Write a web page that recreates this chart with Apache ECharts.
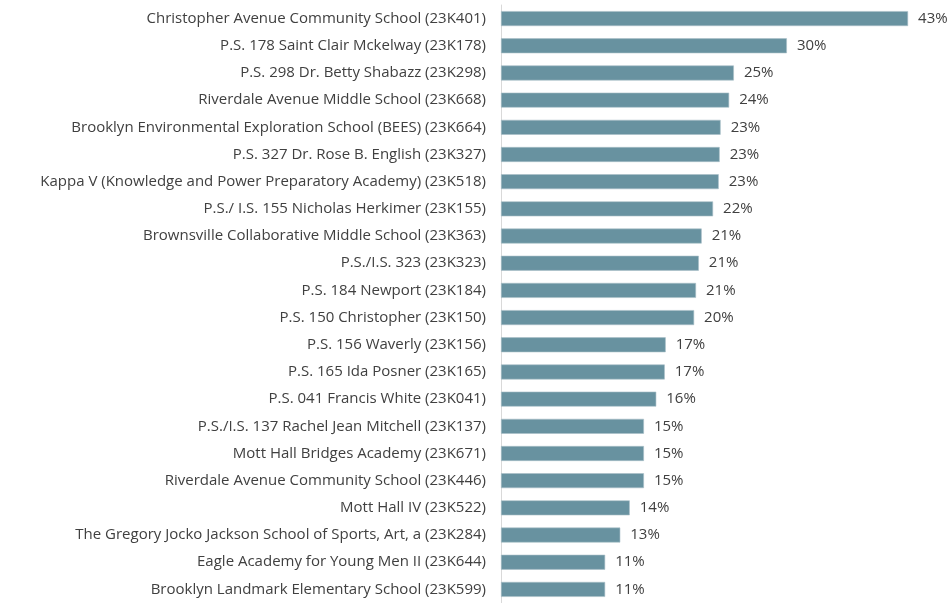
<!DOCTYPE html>
<html>
<head>
<meta charset="utf-8">
<script src="https://cdn.jsdelivr.net/npm/echarts@6/dist/echarts.min.js"></script>
<style>
  html, body { margin: 0; padding: 0; background: #fff; }
  #chart { width: 951px; height: 603px; }
</style>
</head>
<body>
<div id="chart"></div>
<script>
// school names, top to bottom
const schools = [
  'Christopher Avenue Community School (23K401)',
  'P.S. 178 Saint Clair Mckelway (23K178)',
  'P.S. 298 Dr. Betty Shabazz (23K298)',
  'Riverdale Avenue Middle School (23K668)',
  'Brooklyn Environmental Exploration School (BEES) (23K664)',
  'P.S. 327 Dr. Rose B. English (23K327)',
  'Kappa V (Knowledge and Power Preparatory Academy) (23K518)',
  'P.S./ I.S. 155 Nicholas Herkimer (23K155)',
  'Brownsville Collaborative Middle School (23K363)',
  'P.S./I.S. 323 (23K323)',
  'P.S. 184 Newport (23K184)',
  'P.S. 150 Christopher (23K150)',
  'P.S. 156 Waverly (23K156)',
  'P.S. 165 Ida Posner (23K165)',
  'P.S. 041 Francis White (23K041)',
  'P.S./I.S. 137 Rachel Jean Mitchell (23K137)',
  'Mott Hall Bridges Academy (23K671)',
  'Riverdale Avenue Community School (23K446)',
  'Mott Hall IV (23K522)',
  'The Gregory Jocko Jackson School of Sports, Art, a (23K284)',
  'Eagle Academy for Young Men II (23K644)',
  'Brooklyn Landmark Elementary School (23K599)'
];

// percent values
const rates = [
  43.0, 30.2, 24.6, 24.1, 23.2, 23.1, 23.0, 22.4, 21.2, 20.9, 20.6,
  20.4, 17.4, 17.3, 16.4, 15.1, 15.1, 15.1, 13.6, 12.6, 11.0, 11.0
];

const chart = echarts.init(document.getElementById('chart'));
const option = {
  animation: false,
  textStyle: { fontFamily: '"Open Sans", sans-serif' },
  grid: {
    left: 501,
    right: 24,
    top: 5,
    bottom: 0
  },
  xAxis: {
    type: 'value',
    min: 0,
    max: 45,
    show: false
  },
  yAxis: {
    type: 'category',
    data: schools,
    inverse: true,
    axisLine: { show: true, lineStyle: { color: '#d9d9d9', width: 1 } },
    axisTick: { show: false },
    axisLabel: {
      color: '#404040',
      fontSize: 15,
      margin: 15
    }
  },
  series: [
    {
      type: 'bar',
      data: rates,
      barCategoryGap: '45%',
      itemStyle: {
        color: '#6892a0',
        borderColor: '#a9c0c8',
        borderWidth: 0.6
      },
      label: {
        show: true,
        position: 'right',
        distance: 10,
        color: '#404040',
        fontSize: 15,
        formatter: p => Math.round(p.value) + '%'
      }
    }
  ]
};
chart.setOption(option);
</script>
</body>
</html>
